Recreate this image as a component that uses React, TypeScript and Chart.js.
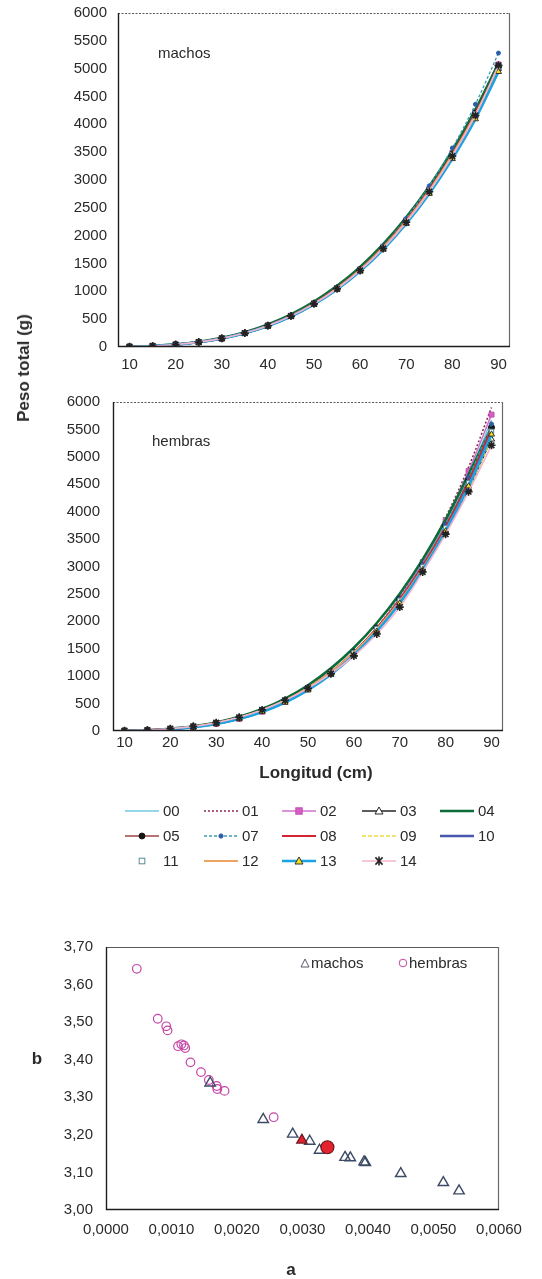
import React, { useEffect, useRef } from 'react';
import { Chart, registerables } from 'chart.js';
Chart.register(...registerables);

// ---------- data ----------
const lengths = ['10', '15', '20', '25', '30', '35', '40', '45', '50', '55', '60', '65', '70', '75', '80', '85', '90'];
const seriesNames = ['00', '01', '02', '03', '04', '05', '07', '08', '09', '10', '11', '12', '13', '14'];

// machos: peso total (g)
const machos00 = [5, 17, 42, 85, 151, 247, 379, 553, 775, 1050, 1386, 1790, 2270, 2830, 3480, 4230, 5090];
const machos01 = [5, 16, 41, 84, 150, 246, 378, 552, 775, 1052, 1390, 1797, 2280, 2845, 3500, 4255, 5120];
const machos02 = [5, 17, 43, 87, 155, 252, 386, 561, 784, 1060, 1396, 1800, 2280, 2838, 3487, 4230, 5075];
const machos03 = [5, 17, 44, 88, 156, 254, 388, 563, 785, 1060, 1393, 1794, 2266, 2815, 3450, 4175, 5000];
const machos04 = [6, 19, 47, 94, 165, 267, 406, 587, 816, 1098, 1440, 1848, 2330, 2888, 3532, 4265, 5095];
const machos05 = [5, 17, 43, 86, 153, 250, 383, 557, 779, 1054, 1389, 1792, 2269, 2824, 3466, 4200, 5035];
const machos07 = [4, 15, 39, 80, 145, 240, 372, 548, 773, 1054, 1398, 1814, 2310, 2895, 3575, 4360, 5280];
const machos08 = [5, 17, 43, 87, 154, 251, 385, 560, 782, 1057, 1391, 1793, 2268, 2820, 3457, 4188, 5018];
const machos09 = [5, 17, 43, 87, 153, 249, 380, 552, 770, 1040, 1368, 1762, 2229, 2770, 3395, 4115, 4960];
const machos10 = [5, 17, 43, 86, 152, 248, 379, 550, 769, 1040, 1370, 1766, 2235, 2780, 3410, 4130, 4950];
const machos11 = [5, 17, 43, 87, 154, 251, 384, 559, 780, 1055, 1389, 1791, 2267, 2819, 3460, 4193, 5025];
const machos12 = [5, 17, 44, 88, 155, 252, 385, 559, 780, 1054, 1387, 1788, 2262, 2812, 3452, 4183, 5012];
const machos13 = [5, 17, 43, 86, 152, 247, 377, 548, 764, 1033, 1359, 1752, 2216, 2755, 3380, 4095, 4945];
const machos14 = [6, 18, 44, 88, 155, 250, 382, 555, 775, 1046, 1375, 1770, 2240, 2790, 3430, 4160, 5060];

// hembras: peso total (g)
const hembras00 = [3, 12, 33, 71, 133, 225, 357, 533, 765, 1058, 1424, 1872, 2410, 3050, 3800, 4670, 5670];
const hembras01 = [3, 11, 30, 66, 126, 216, 346, 522, 755, 1052, 1425, 1885, 2445, 3110, 3895, 4810, 5900];
const hembras02 = [3, 12, 32, 69, 131, 222, 353, 530, 763, 1058, 1427, 1880, 2428, 3080, 3850, 4740, 5770];
const hembras03 = [4, 14, 37, 77, 142, 236, 369, 545, 772, 1057, 1408, 1832, 2336, 2930, 3620, 4415, 5320];
const hembras04 = [4, 15, 40, 84, 155, 258, 401, 591, 835, 1142, 1518, 1970, 2505, 3130, 3853, 4678, 5545];
const hembras05 = [4, 14, 38, 79, 145, 241, 376, 555, 787, 1079, 1441, 1880, 2404, 3023, 3744, 4583, 5536];
const hembras07 = [3, 13, 35, 74, 138, 232, 366, 545, 779, 1073, 1438, 1882, 2412, 3040, 3772, 4620, 5600];
const hembras08 = [4, 14, 37, 78, 143, 239, 373, 551, 782, 1072, 1432, 1868, 2388, 3000, 3715, 4540, 5480];
const hembras09 = [4, 15, 38, 80, 146, 242, 375, 551, 778, 1064, 1415, 1840, 2345, 2935, 3625, 4420, 5330];
const hembras10 = [3, 13, 34, 72, 134, 226, 356, 530, 757, 1043, 1397, 1830, 2345, 2953, 3660, 4480, 5420];
const hembras11 = [4, 14, 37, 78, 144, 240, 374, 552, 783, 1073, 1432, 1866, 2383, 2993, 3705, 4525, 5465];
const hembras12 = [4, 14, 38, 80, 146, 243, 378, 557, 787, 1076, 1432, 1860, 2370, 2970, 3665, 4470, 5390];
const hembras13 = [3, 12, 33, 70, 130, 220, 348, 520, 745, 1030, 1385, 1815, 2330, 2937, 3645, 4465, 5410];
const hembras14 = [5, 17, 42, 85, 152, 250, 385, 560, 778, 1045, 1370, 1770, 2260, 2900, 3590, 4365, 5210];

const machosData = [machos00, machos01, machos02, machos03, machos04, machos05, machos07, machos08, machos09, machos10, machos11, machos12, machos13, machos14];
const hembrasData = [hembras00, hembras01, hembras02, hembras03, hembras04, hembras05, hembras07, hembras08, hembras09, hembras10, hembras11, hembras12, hembras13, hembras14];

// parámetros a, b
const machosA = [0.00159, 0.00240, 0.00285, 0.00311, 0.00326, 0.00365, 0.00373, 0.00394, 0.00396, 0.00450, 0.00515, 0.00539];
const machosB = [3.338, 3.241, 3.202, 3.183, 3.159, 3.140, 3.139, 3.128, 3.126, 3.097, 3.073, 3.051];
const hembrasA = [0.00047, 0.00079, 0.00092, 0.00094, 0.00110, 0.00115, 0.00119, 0.00121, 0.00129, 0.00145, 0.00157, 0.00169, 0.00170, 0.00181, 0.00256];
const hembrasB = [3.642, 3.509, 3.489, 3.478, 3.436, 3.441, 3.438, 3.431, 3.393, 3.367, 3.346, 3.330, 3.322, 3.317, 3.247];
const machosTotalA = [0.00299];
const machosTotalB = [3.186];
const hembrasTotalA = [0.00338];
const hembrasTotalB = [3.167];

// ---------- styles ----------
type Sty = {
  color: string; width: number; dash?: number[]; showLine: boolean;
  marker?: 'rect' | 'triangle' | 'circle' | 'star'; mFill?: string; mStroke?: string; mSize?: number;
};
const styles: Sty[] = [
  { color: '#72c8e2', width: 1.3, showLine: true },
  { color: '#8b2a55', width: 1.6, dash: [2, 2], showLine: true },
  { color: '#d070c8', width: 1.5, showLine: true, marker: 'rect', mFill: '#d85cc4', mStroke: '#c050b0', mSize: 3.5 },
  { color: '#262626', width: 1.3, showLine: true, marker: 'triangle', mFill: '#ffffff', mStroke: '#262626', mSize: 3.5 },
  { color: '#0b6d3a', width: 2.6, showLine: true },
  { color: '#9c4444', width: 1.6, showLine: true, marker: 'circle', mFill: '#151515', mStroke: '#151515', mSize: 3 },
  { color: '#3c9cb4', width: 1.3, dash: [3, 2], showLine: true, marker: 'circle', mFill: '#2a5ea8', mStroke: '#2a5ea8', mSize: 2 },
  { color: '#d22432', width: 2.2, showLine: true },
  { color: '#eedc3c', width: 1.6, dash: [4, 2], showLine: true },
  { color: '#4a58b0', width: 2.3, showLine: true },
  { color: '#5a8a9a', width: 1, showLine: false, marker: 'rect', mFill: '#ffffff', mStroke: '#5a8a9a', mSize: 3 },
  { color: '#f0a464', width: 1.8, showLine: true },
  { color: '#1aa2e2', width: 2.6, showLine: true, marker: 'triangle', mFill: '#f0e020', mStroke: '#333333', mSize: 3.5 },
  { color: '#f2b4cc', width: 1.6, showLine: true, marker: 'star', mFill: '#222222', mStroke: '#222222', mSize: 4 },
];

const FONT = "'Liberation Sans', Arial, sans-serif";
const TXT = '#2a2a2a';

const framePlugin = (topDash: number[]) => ({
  id: 'frame',
  afterDatasetsDraw(chart: any) {
    const { ctx, chartArea: a } = chart;
    ctx.save();
    ctx.lineWidth = 1.2;
    ctx.strokeStyle = '#5a5a5a';
    ctx.setLineDash(topDash);
    ctx.beginPath();
    ctx.moveTo(a.left, a.top + 0.5);
    ctx.lineTo(a.right, a.top + 0.5);
    ctx.stroke();
    ctx.setLineDash([]);
    ctx.strokeStyle = '#6a6a6a';
    ctx.beginPath();
    ctx.moveTo(a.right - 0.5, a.top);
    ctx.lineTo(a.right - 0.5, a.bottom);
    ctx.stroke();
    ctx.strokeStyle = '#1e1e1e';
    ctx.lineWidth = 1.4;
    ctx.beginPath();
    ctx.moveTo(a.left + 0.5, a.top);
    ctx.lineTo(a.left + 0.5, a.bottom - 0.5);
    ctx.lineTo(a.right, a.bottom - 0.5);
    ctx.stroke();
    ctx.restore();
  },
});

const clearPad = (scale: any) => {
  scale.paddingTop = 0;
  scale.paddingBottom = 0;
  scale.paddingLeft = 0;
  scale.paddingRight = 0;
};

function lineConfig(data: number[][], opts: { top: number; right: number; yWidth: number; xHeight: number; yPad: number; xPad: number }) {
  return {
    type: 'line' as const,
    data: {
      labels: lengths,
      datasets: data.map((vals, i) => {
        const s = styles[i];
        return {
          label: seriesNames[i],
          data: vals,
          borderColor: s.color,
          backgroundColor: s.mFill || s.color,
          borderWidth: s.width,
          borderDash: s.dash || [],
          showLine: s.showLine,
          cubicInterpolationMode: 'monotone' as const,
          pointStyle: s.marker || 'circle',
          pointRadius: s.marker ? s.mSize : 0,
          pointBorderColor: s.mStroke || s.color,
          pointBackgroundColor: s.mFill || s.color,
          pointBorderWidth: s.marker === 'star' ? 1.6 : 1,
          order: 20 - i,
          fill: false,
        };
      }),
    },
    options: {
      animation: false as const,
      responsive: false,
      devicePixelRatio: 1,
      layout: { padding: { left: 0, top: opts.top, right: opts.right, bottom: 0 } },
      plugins: { legend: { display: false }, tooltip: { enabled: false }, title: { display: false } },
      scales: {
        x: {
          type: 'category' as const,
          offset: true,
          grid: { display: false, drawTicks: false },
          border: { display: false },
          ticks: {
            autoSkip: false,
            maxRotation: 0,
            padding: opts.xPad,
            color: TXT,
            font: { family: FONT, size: 15 },
            callback: function (this: any, val: any, index: number) {
              return index % 2 === 0 ? this.getLabelForValue(val) : '';
            },
          },
          afterFit: (scale: any) => { scale.height = opts.xHeight; clearPad(scale); },
        },
        y: {
          min: 0,
          max: 6000,
          grid: { display: false, drawTicks: false },
          border: { display: false },
          ticks: {
            stepSize: 500, padding: opts.yPad, color: TXT, font: { family: FONT, size: 15 },
            callback: (v: any) => String(v),
          },
          afterFit: (scale: any) => { scale.width = opts.yWidth; clearPad(scale); },
        },
      },
    },
    plugins: [framePlugin([2, 1.5])],
  };
}

function scatterConfig() {
  const pts = (xs: number[], ys: number[]) => xs.map((x, i) => ({ x, y: ys[i] }));
  return {
    type: 'scatter' as const,
    data: {
      datasets: [
        {
          label: 'hembras total', data: pts(hembrasTotalA, hembrasTotalB), pointStyle: 'circle',
          pointRadius: 6.5, pointBackgroundColor: '#e4222e', pointBorderColor: '#6a1a20', pointBorderWidth: 1.2, order: 0,
        },
        {
          label: 'machos total', data: pts(machosTotalA, machosTotalB), pointStyle: 'triangle',
          pointRadius: 6, pointBackgroundColor: '#e4222e', pointBorderColor: '#6a1a20', pointBorderWidth: 1.2, order: 1,
        },
        {
          label: 'machos', data: pts(machosA, machosB), pointStyle: 'triangle',
          pointRadius: 6, pointBackgroundColor: 'rgba(255,255,255,0)', pointBorderColor: '#3d4a66', pointBorderWidth: 1.4, order: 2,
        },
        {
          label: 'hembras', data: pts(hembrasA, hembrasB), pointStyle: 'circle',
          pointRadius: 4.3, pointBackgroundColor: 'rgba(255,255,255,0)', pointBorderColor: '#c446a8', pointBorderWidth: 1.2, order: 3,
        },
      ],
    },
    options: {
      animation: false as const,
      responsive: false,
      devicePixelRatio: 1,
      layout: { padding: { left: 0, top: 17, right: 43, bottom: 0 } },
      plugins: { legend: { display: false }, tooltip: { enabled: false } },
      scales: {
        x: {
          type: 'linear' as const,
          min: 0,
          max: 0.006,
          grid: { display: false, drawTicks: false },
          border: { display: false },
          ticks: {
            stepSize: 0.001, padding: 11, color: TXT, font: { family: FONT, size: 15 },
            callback: (v: any) => Number(v).toFixed(4).replace('.', ','),
          },
          afterFit: (scale: any) => { scale.height = 69; clearPad(scale); },
        },
        y: {
          min: 3.0,
          max: 3.7,
          grid: { display: false, drawTicks: false },
          border: { display: false },
          ticks: {
            stepSize: 0.1, padding: 13, color: TXT, font: { family: FONT, size: 15 },
            callback: (v: any) => Number(v).toFixed(2).replace('.', ','),
          },
          afterFit: (scale: any) => { scale.width = 106; clearPad(scale); },
        },
      },
    },
    plugins: [framePlugin([])],
  };
}

function ChartCanvas({ make, width, height, style }: { make: () => any; width: number; height: number; style: React.CSSProperties }) {
  const ref = useRef<HTMLCanvasElement | null>(null);
  useEffect(() => {
    if (!ref.current) return;
    const chart = new Chart(ref.current, make());
    return () => chart.destroy();
  }, []);
  return <canvas ref={ref} width={width} height={height} style={{ position: 'absolute', width, height, ...style }} />;
}

function Marker({ s, cx, cy }: { s: Sty; cx: number; cy: number }) {
  if (!s.marker) return null;
  const r = (s.mSize || 3) + 0.5;
  if (s.marker === 'rect') return <rect x={cx - r * 0.8} y={cy - r * 0.8} width={r * 1.6} height={r * 1.6} fill={s.mFill} stroke={s.mStroke} strokeWidth={1} />;
  if (s.marker === 'circle') return <circle cx={cx} cy={cy} r={r * 0.85} fill={s.mFill} stroke={s.mStroke} strokeWidth={1} />;
  if (s.marker === 'triangle') return <polygon points={`${cx},${cy - r} ${cx - r},${cy + r * 0.75} ${cx + r},${cy + r * 0.75}`} fill={s.mFill} stroke={s.mStroke} strokeWidth={1} />;
  return (
    <g stroke={s.mStroke} strokeWidth={1.6}>
      <line x1={cx - r * 0.8} y1={cy - r * 0.8} x2={cx + r * 0.8} y2={cy + r * 0.8} />
      <line x1={cx - r * 0.8} y1={cy + r * 0.8} x2={cx + r * 0.8} y2={cy - r * 0.8} />
      <line x1={cx} y1={cy - r} x2={cx} y2={cy + r} />
    </g>
  );
}

const legendCols = [125, 204, 282, 362, 440];
const legendRows = [811, 836, 861];

function LineLegend() {
  return (
    <>
      {seriesNames.map((name, i) => {
        const s = styles[i];
        const col = i % 5;
        const row = Math.floor(i / 5);
        const x = legendCols[col];
        const y = legendRows[row];
        return (
          <div key={name} style={{ position: 'absolute', left: x, top: y - 8, height: 16, width: 75 }}>
            <svg width={36} height={16} style={{ position: 'absolute', left: 0, top: 0 }}>
              {s.showLine && (
                <line x1={0} y1={8} x2={34} y2={8} stroke={s.color} strokeWidth={s.width}
                  strokeDasharray={s.dash ? s.dash.join(' ') : undefined} />
              )}
              <Marker s={s} cx={17} cy={8} />
            </svg>
            <span style={{ position: 'absolute', left: 38, top: -1, fontFamily: FONT, fontSize: 15, color: TXT, lineHeight: '18px' }}>{name}</span>
          </div>
        );
      })}
    </>
  );
}

export default function App() {
  const txt: React.CSSProperties = { position: 'absolute', fontFamily: FONT, color: TXT, whiteSpace: 'nowrap' };
  return (
    <div style={{ position: 'absolute', left: 0, top: 0, width: 542, height: 1279, background: '#fff', overflow: 'hidden' }}>
      <ChartCanvas width={542} height={380} style={{ left: 0, top: 0 }}
        make={() => lineConfig(machosData, { top: 13, right: 32, yWidth: 118, xHeight: 33, yPad: 11, xPad: 9 })} />
      <ChartCanvas width={542} height={400} style={{ left: 0, top: 380 }}
        make={() => lineConfig(hembrasData, { top: 22, right: 39, yWidth: 113, xHeight: 49, yPad: 13, xPad: 3 })} />
      <ChartCanvas width={542} height={349} style={{ left: 0, top: 930 }} make={scatterConfig} />

      <div style={{ ...txt, left: 158, top: 44, fontSize: 15 }}>machos</div>
      <div style={{ ...txt, left: 152, top: 432, fontSize: 15 }}>hembras</div>

      <div style={{ ...txt, left: 24, top: 368, fontSize: 17, fontWeight: 'bold', transform: 'translate(-50%, -50%) rotate(-90deg)' }}>Peso total (g)</div>
      <div style={{ ...txt, left: 316, top: 773, fontSize: 17, fontWeight: 'bold', transform: 'translate(-50%, -50%)' }}>Longitud (cm)</div>

      <LineLegend />

      <div style={{ ...txt, left: 300, top: 954, fontSize: 15, display: 'flex', alignItems: 'center' }}>
        <svg width={10} height={10} style={{ marginRight: 1 }}>
          <polygon points="5,1 1,9 9,9" fill="none" stroke="#555b6a" strokeWidth={1} />
        </svg>
        <span>machos</span>
      </div>
      <div style={{ ...txt, left: 398, top: 954, fontSize: 15, display: 'flex', alignItems: 'center' }}>
        <svg width={10} height={10} style={{ marginRight: 1 }}>
          <circle cx={5} cy={5} r={3.8} fill="none" stroke="#c446a8" strokeWidth={1} />
        </svg>
        <span>hembras</span>
      </div>

      <div style={{ ...txt, left: 37, top: 1059, fontSize: 17, fontWeight: 'bold', transform: 'translate(-50%, -50%)' }}>b</div>
      <div style={{ ...txt, left: 291, top: 1270, fontSize: 17, fontWeight: 'bold', transform: 'translate(-50%, -50%)' }}>a</div>
    </div>
  );
}
